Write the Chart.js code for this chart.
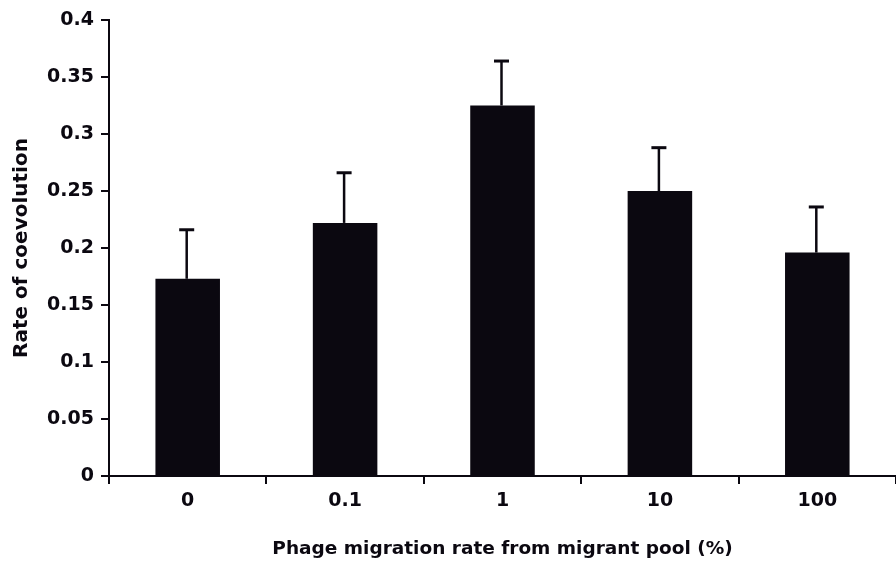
<!DOCTYPE html>
<html>
<head>
<meta charset="utf-8">
<title>Rate of coevolution</title>
<script src="https://cdn.jsdelivr.net/npm/chart.js@4.4.1/dist/chart.umd.min.js"></script>
<style>
  html, body { margin: 0; padding: 0; background: #fff; }
  #wrap { width: 896px; height: 564px; }
</style>
</head>
<body>
<div id="wrap"><canvas id="coevoChart" width="896" height="564"></canvas></div>
<script>
// migration rate categories (%)
const migrationRates = ['0', '0.1', '1', '10', '100'];
// mean rate of coevolution per treatment
const meanRates = [0.173, 0.222, 0.325, 0.250, 0.196];
// top of the error bar (mean + SE)
const upperRates = [0.216, 0.266, 0.364, 0.288, 0.236];

const fontFamily = "'DejaVu Sans', sans-serif";
const inkColor = '#0b0810';

// draws the upward-only error bars with a small cap
const errorBars = {
    id: 'errorBars',
    afterDatasetsDraw(chart) {
        const ctx = chart.ctx;
        const yScale = chart.scales.y;
        const meta = chart.getDatasetMeta(0);
        ctx.save();
        ctx.strokeStyle = inkColor;
        ctx.lineCap = 'butt';
        meta.data.forEach((bar, i) => {
            const yBase = yScale.getPixelForValue(meanRates[i]);
            const yTop = yScale.getPixelForValue(upperRates[i]);
            ctx.lineWidth = 2.5;
            ctx.beginPath();
            ctx.moveTo(bar.x - 1, yBase);
            ctx.lineTo(bar.x - 1, yTop);
            ctx.stroke();
            ctx.lineWidth = 3;
            ctx.beginPath();
            ctx.moveTo(bar.x - 8.5, yTop);
            ctx.lineTo(bar.x + 6.5, yTop);
            ctx.stroke();
        });
        ctx.restore();
    }
};

const chartContext = document.getElementById('coevoChart').getContext('2d');

new Chart(chartContext, {
    type: 'bar',
    data: {
        labels: migrationRates,
        datasets: [{
            data: meanRates,
            backgroundColor: inkColor,
            borderWidth: 0,
            barPercentage: 0.41,
            categoryPercentage: 1
        }]
    },
    options: {
        responsive: false,
        animation: false,
        layout: {
            padding: { top: 20, right: -4, left: 0, bottom: 0 }
        },
        plugins: {
            legend: { display: false },
            tooltip: { enabled: false }
        },
        scales: {
            x: {
                offset: true,
                grid: {
                    offset: true,
                    drawOnChartArea: false,
                    drawTicks: true,
                    tickLength: 8,
                    lineWidth: 2,
                    color: inkColor
                },
                border: { display: true, color: inkColor, width: 2 },
                ticks: {
                    color: inkColor,
                    padding: 6,
                    font: { family: fontFamily, size: 19, weight: 'bold' }
                },
                title: {
                    display: true,
                    text: 'Phage migration rate from migrant pool (%)',
                    color: inkColor,
                    padding: { top: 0, bottom: 4 },
                    font: { family: fontFamily, size: 18.5, weight: 'bold' }
                },
                afterFit(scale) {
                    scale.height = 88;
                }
            },
            y: {
                min: 0,
                max: 0.4,
                grid: {
                    drawOnChartArea: false,
                    drawTicks: true,
                    tickLength: 8,
                    lineWidth: 2,
                    color: inkColor
                },
                border: { display: true, color: inkColor, width: 2 },
                ticks: {
                    stepSize: 0.05,
                    color: inkColor,
                    padding: 7,
                    font: { family: fontFamily, size: 19, weight: 'bold' },
                    callback: (v) => String(Number(v.toFixed(2)))
                },
                title: {
                    display: true,
                    text: 'Rate of coevolution',
                    color: inkColor,
                    padding: { top: 10, bottom: 0 },
                    font: { family: fontFamily, size: 20, weight: 'bold' }
                },
                afterFit(scale) {
                    scale.width = 109;
                }
            }
        }
    },
    plugins: [errorBars]
});
</script>
</body>
</html>
